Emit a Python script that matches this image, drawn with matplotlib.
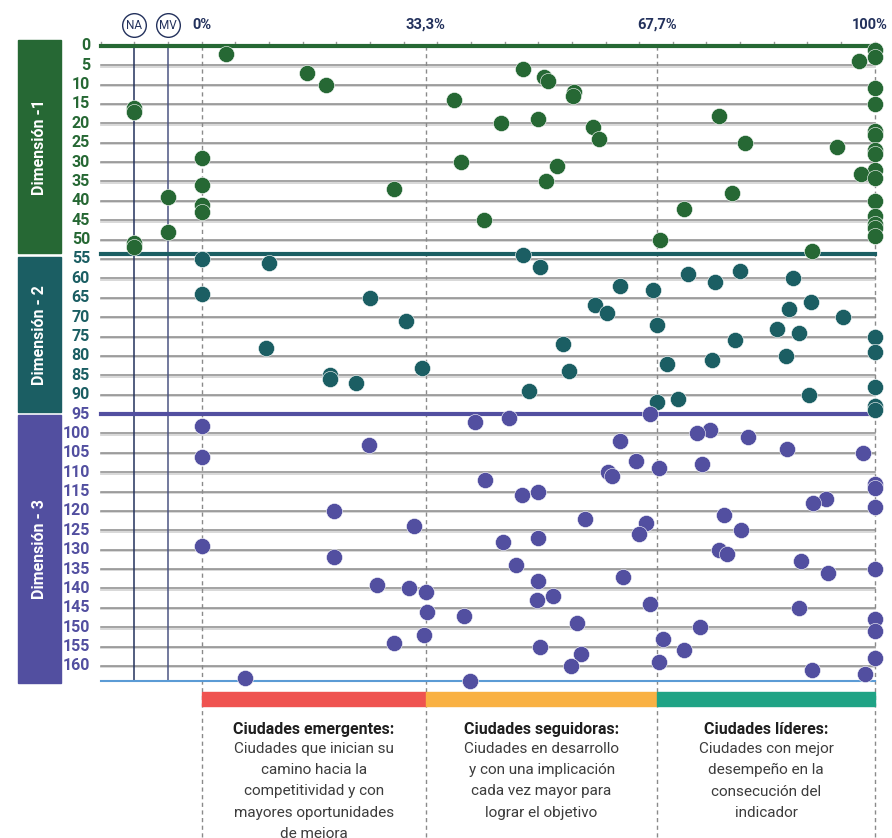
import matplotlib
matplotlib.use("Agg")
import matplotlib.pyplot as plt
from matplotlib.patches import Rectangle

# indicator position (row) and score in % ; 'NA' / 'MV' for the two special columns
d1_rows = [1, 2, 3, 4, 6, 7, 8, 9, 10, 11, 12, 13, 14, 15, 16, 17, 18, 19, 20, 21, 22, 23, 24, 25, 26,
           27, 28, 29, 30, 31, 32, 33, 34, 35, 36, 37, 38, 39, 40, 41, 42, 43, 44, 45, 46, 47, 48, 49,
           50, 51, 52, 53]
d1_vals = [100, 3.6, 100, 97.7, 47.8, 15.6, 50.9, 51.5, 18.5, 100, 55.3, 55.1, 37.5, 100, 'NA', 'NA',
           76.8, 50.0, 44.4, 58.2, 100, 100, 59.1, 80.7, 94.4, 100, 100, 0, 38.6, 52.8, 100, 97.9, 100,
           51.2, 0, 28.5, 78.8, 'MV', 100, 0, 71.6, 0, 100, 42.0, 100, 100, 'MV', 100, 68.1, 'NA', 'NA',
           90.7]

d2_rows = list(range(54, 95))
d2_vals = [47.7, 0, 10.0, 50.2, 80.0, 72.3, 87.8, 76.3, 62.2, 67.0, 0, 25.0, 90.5, 58.4, 87.2, 60.2,
           95.3, 30.3, 67.6, 85.5, 88.7, 100, 79.3, 53.7, 9.5, 100, 86.8, 75.8, 69.1, 32.8, 54.6, 19.0,
           19.0, 22.9, 100, 48.7, 90.3, 70.7, 67.6, 100, 100]

d3_rows = list(range(95, 165))
d3_vals = [66.6, 45.7, 40.6, 0, 75.6, 73.6, 81.1, 62.1, 24.8, 86.9, 98.3, 0, 64.5, 74.4, 67.9, 60.3,
           61.0, 42.1, 100, 100, 49.9, 47.6, 92.8, 90.8, 100, 19.6, 77.6, 56.9, 66.0, 31.5, 80.2, 65.0,
           49.9, 44.7, 0, 76.9, 78.0, 19.7, 89.0, 46.7, 100, 93.0, 62.6, 49.9, 26.0, 30.8, 33.3, 52.2,
           49.8, 66.6, 88.7, 33.5, 39.0, 100, 55.8, 74.0, 100, 33.0, 68.6, 28.6, 50.2, 71.6, 56.3, 100,
           67.9, 54.8, 90.7, 98.6, 6.5, 39.9]

dim_names = ["Dimensión -1", "Dimensión - 2", "Dimensión - 3"]
dim_spans = [(-1.5, 53.5), (54.5, 94.5), (95.3, 164.4)]
dividers = [0, 53.8, 95]
y_ticks = list(range(0, 161, 5))
thresholds = [0, 33.3, 67.7, 100]
top_labels = ["0%", "33,3%", "67,7%", "100%"]
special_x = {'NA': -10, 'MV': -5}

cats = ["Ciudades emergentes:", "Ciudades seguidoras:", "Ciudades líderes:"]
cat_texts = ["Ciudades que inician su\ncamino hacia la\ncompetitividad y con\nmayores oportunidades\nde mejora",
             "Ciudades en desarrollo\ny con una implicación\ncada vez mayor para\nlograr el objetivo",
             "Ciudades con mejor\ndesempeño en la\nconsecución del\nindicador"]

green = '#266834'
teal = '#1b5e63'
purple = '#524fa0'
navy = '#23315c'
dim_colors = [green, teal, purple]
band_colors = ['#ef5350', '#f9b143', '#1fa385']

fnt = ['Roboto', 'DejaVu Sans']

fig = plt.figure(figsize=(8.92, 8.38), dpi=100)
ax = fig.add_axes([0, 0, 1, 1])
ax.set_xlim(-29.97, 102.57)
ax.set_ylim(204.39, -11.82)
ax.axis('off')

# grid lines
for y in range(5, 161, 5):
    ax.plot([-15, 100], [y + 0.35, y + 0.35], color='#d6d6d6', lw=1.3, zorder=1)
    ax.plot([-15, 100], [y, y], color='#8a8a8a', lw=1.1, zorder=1)

# top tick marks
for x in range(-15, 101, 5):
    ax.plot([x, x], [0, -1.1], color='#9a9a9a', lw=1, zorder=1)

# NA / MV columns
ax.plot([-10, -10], [0, 164], color=navy, lw=1.1, zorder=2)
ax.plot([-5, -5], [0, 164], color='#4b5582', lw=1.1, zorder=2)
for lab, x in special_x.items():
    ax.scatter([x], [-5.4], s=290, facecolor='white', edgecolor=navy, lw=1, zorder=3, clip_on=False)
    ax.text(x, -5.3, lab, ha='center', va='center', fontsize=8.5, color=navy, family=fnt, zorder=4)

# dashed threshold lines
for t in thresholds:
    ax.plot([t, t], [0, 204.4], color='#8a8a8a', lw=1, ls=(0, (3, 2.5)), zorder=1)

# divider lines
for d, c in zip(dividers, dim_colors):
    ax.plot([-15, 100], [d, d], color=c, lw=3, zorder=2)
ax.plot([-15, 100], [164, 164], color='#5b9bd5', lw=1.5, zorder=2)

# points
for rows, vals, c in [(d1_rows, d1_vals, green), (d2_rows, d2_vals, teal), (d3_rows, d3_vals, purple)]:
    xs = [special_x.get(v, v) if isinstance(v, str) else v for v in vals]
    ax.scatter(xs, rows, s=135, color=c, edgecolor='white', lw=0.4, zorder=5)

# y labels
for y in y_ticks:
    c = green if y <= 50 else (teal if y <= 90 else purple)
    ax.text(-16.6, y, str(y), ha='right', va='center', fontsize=11.5, fontweight='bold',
            color=c, family=fnt)

# dimension side bars
for (y0, y1), name, c in zip(dim_spans, dim_names, dim_colors):
    ax.add_patch(Rectangle((-27.3, y0), 6.4, y1 - y0, color=c, zorder=2))
    ax.text(-24.1, (y0 + y1) / 2, name, rotation=90, ha='center', va='center', color='white',
            fontsize=11.5, fontweight='bold', family=fnt)

# top percentage labels
for t, lab in zip(thresholds, top_labels):
    ax.text(min(t, 99.3), -5.4, lab, ha='center', va='center', fontsize=10.5, fontweight='bold',
            color=navy, family=fnt)

# category bands and texts
for i in range(3):
    x0, x1 = thresholds[i], thresholds[i + 1]
    ax.add_patch(Rectangle((x0, 166.7), x1 - x0, 3.6, color=band_colors[i], zorder=2))
    xc = (x0 + x1) / 2
    ax.text(xc, 176.3, cats[i], ha='center', va='center', fontsize=11.5, fontweight='bold',
            color='#1e1e1e', family=fnt)
    ax.text(xc, 179.5, cat_texts[i], ha='center', va='top', fontsize=11, color='#3c3c3c',
            family=fnt, linespacing=1.68)

fig.savefig('out.png', dpi=100)
